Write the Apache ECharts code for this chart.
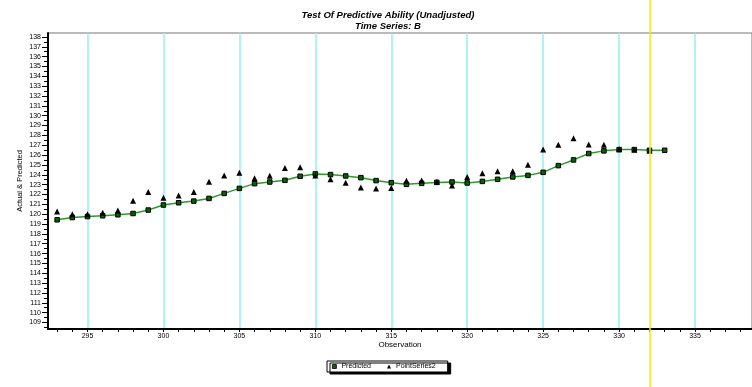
<!DOCTYPE html>
<html>
<head>
<meta charset="utf-8">
<script src="https://cdn.jsdelivr.net/npm/echarts@6/dist/echarts.min.js"></script>
<style>html,body{margin:0;padding:0;background:#fff;}#c{width:752px;height:387px;}</style>
</head>
<body>
<div id="c"></div>
<script>
// ---- data ----
var obsStart = 293;
var predicted = [119.43,119.66,119.76,119.84,119.94,120.07,120.42,120.93,121.16,121.33,121.60,122.11,122.62,123.10,123.27,123.44,123.85,124.09,124.02,123.88,123.71,123.41,123.20,123.03,123.13,123.23,123.27,123.17,123.33,123.54,123.78,123.94,124.25,124.93,125.51,126.16,126.43,126.56,126.56,126.49,126.49];
var pointSeries2 = [120.27,120.0,120.0,120.14,120.38,121.37,122.25,121.67,121.9,122.25,123.3,123.94,124.22,123.64,123.91,124.7,124.76,123.94,123.54,123.2,122.72,122.6,122.66,123.4,123.41,123.3,122.92,123.78,124.15,124.36,124.36,125.03,126.56,127.04,127.72,127.07,127.04,126.6,126.55,126.45];
var xMajorTicks = [295,300,305,310,315,320,325,330,335];
var xMinorTicks = [293,294,295,296,297,298,299,300,301,302,303,304,305,306,307,308,309,310,311,312,313,314,315,316,317,318,319,320,321,322,323,324,325,326,327,328,329,330,331,332,333,334,335,336,337,338];
var yMajorTicks = [109,110,111,112,113,114,115,116,117,118,119,120,121,122,123,124,125,126,127,128,129,130,131,132,133,134,135,136,137,138];
var yMinorTicks = [108.5,109.5,110.5,111.5,112.5,113.5,114.5,115.5,116.5,117.5,118.5,119.5,120.5,121.5,122.5,123.5,124.5,125.5,126.5,127.5,128.5,129.5,130.5,131.5,132.5,133.5,134.5,135.5,136.5,137.5];
var markerObs = 332;
var xMin = 292.4, xMax = 338.75, yMin = 108.34, yMax = 138.4;

function pairs(arr){ return arr.map(function(v,i){ return [obsStart+i, v]; }); }

var FONT = 'Liberation Sans, Arial, sans-serif';
var chart = echarts.init(document.getElementById('c'));
chart.setOption({
  animation: false,
  backgroundColor: '#fff',
  title: {
    text: 'Test Of Predictive Ability (Unadjusted)\nTime Series: B',
    left: 388, top: 10, textAlign: 'center', padding: 0,
    textStyle: { fontFamily: FONT, fontSize: 9.5, fontWeight: 'bold', fontStyle: 'italic', color: '#000', lineHeight: 11 }
  },
  legend: {
    data: [
      {name:'Predicted', icon:'rect', itemStyle: { color: '#0b5e0b', borderColor: '#000', borderWidth: 0.8 }},
      {name:'PointSeries2', icon:'triangle', itemStyle: { color: '#000', borderWidth: 0 }}
    ],
    left: 327, top: 361,
    itemWidth: 4, itemHeight: 4, itemGap: 16,
    padding: [2, 12, 2, 5],
    backgroundColor: '#fff', borderColor: '#000', borderWidth: 1,
    shadowColor: 'rgba(0,0,0,1)', shadowBlur: 0, shadowOffsetX: 3, shadowOffsetY: 2,
    textStyle: { fontFamily: FONT, fontSize: 7, color: '#000' }
  },
  grid: [
    { left: 48, right: 0, top: 33, bottom: 58, show: true, borderColor: '#777', borderWidth: 1, backgroundColor: '#fff' },
    { left: 48, right: 0, top: 0, bottom: 0 }
  ],
  xAxis: [
    { type: 'value', gridIndex: 0, min: xMin, max: xMax, position: 'bottom',
      axisLine: { show: true, onZero: false, lineStyle: { color: '#000', width: 2 } },
      axisTick: { show: true, customValues: xMinorTicks, length: 3, lineStyle: { color: '#000', width: 1 } },
      axisLabel: { show: false }, splitLine: { show: false } },
    { type: 'value', gridIndex: 0, min: xMin, max: xMax, position: 'bottom',
      name: 'Observation', nameLocation: 'middle', nameGap: 12, nameMoveOverlap: false,
      nameTextStyle: { fontFamily: FONT, fontSize: 8, color: '#000' },
      axisLine: { show: false, onZero: false },
      axisTick: { show: false, customValues: xMajorTicks },
      axisLabel: { show: true, customValues: xMajorTicks, margin: 4, fontFamily: FONT, fontSize: 7, color: '#000' },
      splitLine: { show: true, lineStyle: { color: '#8ff2f2', width: 1.5 } } },
    { type: 'value', gridIndex: 1, min: xMin, max: xMax, show: false }
  ],
  yAxis: [
    { type: 'value', gridIndex: 0, min: yMin, max: yMax, position: 'left',
      name: 'Actual & Predicted', nameLocation: 'middle', nameGap: 24, nameMoveOverlap: false,
      nameTextStyle: { fontFamily: FONT, fontSize: 7.5, color: '#000' },
      axisLine: { show: true, onZero: false, lineStyle: { color: '#000', width: 2 } },
      axisTick: { show: true, customValues: yMajorTicks, length: 6, lineStyle: { color: '#000', width: 1 } },
      axisLabel: { show: true, customValues: yMajorTicks, margin: 7, fontFamily: FONT, fontSize: 7, color: '#000' },
      splitLine: { show: false } },
    { type: 'value', gridIndex: 0, min: yMin, max: yMax, position: 'left',
      axisLine: { show: false, onZero: false },
      axisTick: { show: true, customValues: yMinorTicks, length: 4, lineStyle: { color: '#000', width: 1 } },
      axisLabel: { show: false }, splitLine: { show: false } },
    { type: 'value', gridIndex: 1, min: 0, max: 1, show: false }
  ],
  series: [
    { name: 'Predicted', type: 'line', xAxisIndex: 0, yAxisIndex: 0,
      data: pairs(predicted), symbol: 'rect', symbolSize: 4.5, showSymbol: true,
      lineStyle: { color: '#2e9a2e', width: 1.5 },
      itemStyle: { color: '#0b5e0b', borderColor: '#000', borderWidth: 1 }, z: 3 },
    { name: 'PointSeries2', type: 'scatter', xAxisIndex: 0, yAxisIndex: 0,
      data: pairs(pointSeries2), symbol: 'triangle', symbolSize: 6,
      itemStyle: { color: '#000', opacity: 1 }, z: 4 },
    { name: 'marker', type: 'line', xAxisIndex: 2, yAxisIndex: 2, data: [], z: 10,
      color: '#ffe600',
      markLine: { silent: true, symbol: ['none','none'], label: { show: false },
        lineStyle: { color: '#ffe600', width: 1.5, type: 'solid', opacity: 1 },
        emphasis: { disabled: true },
        data: [{ xAxis: markerObs }] } }
  ]
});
</script>
</body>
</html>
